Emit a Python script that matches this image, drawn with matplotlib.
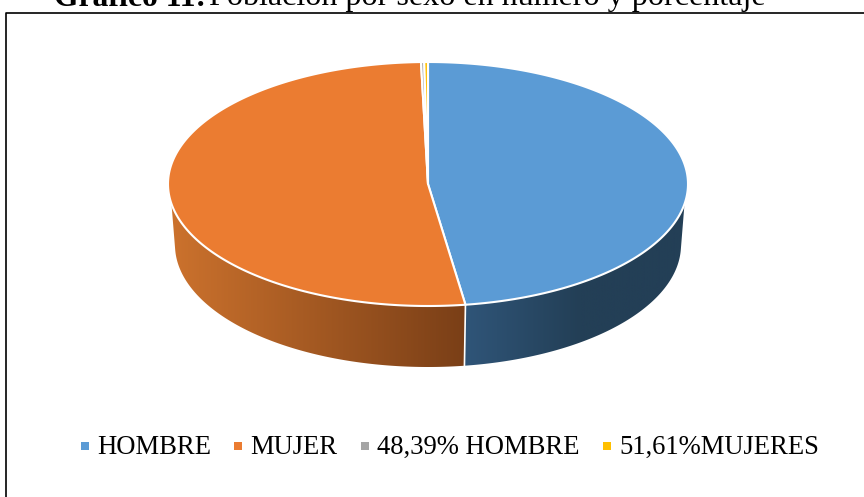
import numpy as np
import matplotlib
matplotlib.use("Agg")
import matplotlib.pyplot as plt
from matplotlib.colors import LinearSegmentedColormap
from matplotlib.patches import Polygon

# Datos
labels = ["HOMBRE", "MUJER", "48,39% HOMBRE", "51,61%MUJERES"]
values = [47.7, 51.87, 0.2, 0.23]
colors = ["#5B9BD5", "#EB7C31", "#A5A5A5", "#FFC000"]
title_bold = "Gráfico 11:"
title_rest = "Población por sexo en número y porcentaje"

plt.rcParams["font.family"] = ["Liberation Serif", "DejaVu Serif"]

fig = plt.figure(figsize=(8.64, 4.97), dpi=100)
ax = fig.add_axes([0, 0, 1, 1])

cx, cy, rx, ry = 428, 184, 260, 122
cy2, rx2, ry2 = 245, 253, 122


def arc(t0, t1, cy_, rx_, ry_):
    t = np.radians(np.linspace(t0, t1, 200))
    return np.column_stack([cx + rx_ * np.sin(t), cy_ - ry_ * np.cos(t)])


# Angulos de cada sector, en sentido horario desde arriba
edges = np.concatenate([[0], np.cumsum(values)]) / np.sum(values) * 360

# Lateral con degradado
cuts = edges[1]
sides = [
    (np.vstack([arc(99.4, cuts, cy, rx, ry), arc(cuts, 92.3, cy2, rx2, ry2)]),
     ["#30567A", "#233F56", "#233F56"], 460, 700),
    (np.vstack([arc(cuts, 260.6, cy, rx, ry), arc(267.7, cuts, cy2, rx2, ry2)]),
     ["#CC722D", "#7A3F17"], 170, 465),
]
for pts, grad, x0, x1 in sides:
    cmap = LinearSegmentedColormap.from_list("lado", grad)
    im = ax.imshow(np.linspace(0, 1, 256).reshape(1, -1), cmap=cmap, aspect="auto",
                   extent=[x0, x1, 380, 190], zorder=1)
    patch = Polygon(pts, closed=True, facecolor="none", edgecolor="none", transform=ax.transData)
    ax.add_patch(patch)
    im.set_clip_path(patch)

# Separacion vertical entre los dos laterales
sep_top = arc(cuts, cuts, cy, rx, ry)[0]
sep_bot = arc(cuts, cuts, cy2, rx2, ry2)[0]
ax.plot([sep_top[0], sep_bot[0]], [sep_top[1], sep_bot[1]], color="white", lw=1.2, zorder=2)

# Cara superior
for i in range(len(values)):
    pts = np.vstack([[cx, cy], arc(edges[i], edges[i + 1], cy, rx, ry)])
    ax.add_patch(Polygon(pts, closed=True, facecolor=colors[i], edgecolor="white",
                         lw=1.5, joinstyle="round", zorder=3))

# Marco
ax.plot([5.5, 5.5, 864], [497, 12.5, 12.5], color="black", lw=1.2, zorder=4)

# Titulo
ax.text(54, 5.5, title_bold, fontsize=22.8, fontweight="bold", ha="left", va="baseline", zorder=5)
ax.text(209, 5.5, title_rest, fontsize=23.1, ha="left", va="baseline", zorder=5)

# Leyenda
marker_x = [85, 238, 365, 607]
text_x = [97, 250, 377, 619]
for i in range(len(labels)):
    ax.scatter(marker_x[i], 446, marker="s", s=33, color=colors[i], linewidths=0, zorder=5)
    ax.text(text_x[i], 454, labels[i], fontsize=19.2, ha="left", va="baseline", color="black", zorder=5)

ax.set_xlim(0, 864)
ax.set_ylim(497, 0)
ax.axis("off")

fig.savefig("out.png", dpi=100)
